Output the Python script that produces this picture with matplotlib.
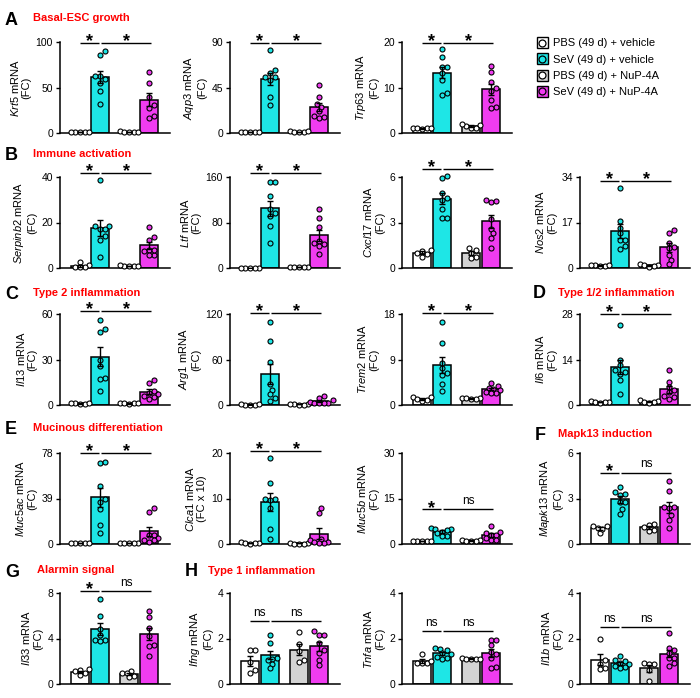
import numpy as np
import matplotlib
matplotlib.use("Agg")
import matplotlib.pyplot as plt
from matplotlib.patches import Rectangle
from matplotlib.lines import Line2D
from matplotlib.legend_handler import HandlerBase

plt.rcParams["font.family"] = ["Liberation Sans", "DejaVu Sans"]
plt.rcParams["mathtext.fontset"] = "custom"
plt.rcParams["mathtext.rm"] = "Liberation Sans"
plt.rcParams["mathtext.it"] = "Liberation Sans:italic"
plt.rcParams["mathtext.bf"] = "Liberation Sans:bold"

# ---------------- data ----------------
group_labels = ["PBS (49 d) + vehicle", "SeV (49 d) + vehicle",
                "PBS (49 d) + NuP-4A", "SeV (49 d) + NuP-4A"]
bar_colors = ["#FFFFFF", "#1EE6E6", "#D3D3D3", "#F03CF0"]
dot_colors = ["#FFFFFF", "#1EE6E6", "#FFFFFF", "#F03CF0"]

krt5 = [[0.8, 1.0, 1.2, 0.9, 1.1], [90, 86, 63, 63, 59, 55, 46, 32],
        [1.0, 1.5, 2.0, 1.0, 0.8], [67, 55, 40, 31, 28, 19, 17]]
aqp3 = [[0.6, 0.8, 1.0, 1.1, 0.9], [82, 62, 59, 55, 55, 52, 36, 28],
        [1.0, 2.0, 1.5, 0.8, 1.0], [47, 36, 29, 26, 22, 17, 15, 16]]
trp63 = [[1.0, 1.1, 0.9, 1.0, 1.05], [18.5, 16.7, 14.4, 14.4, 13.2, 11.6, 8.4, 8.8],
         [1.0, 1.5, 2.0, 1.8, 1.2], [14.7, 13.3, 11.3, 10.0, 9.3, 7.2, 5.7, 5.6]]
serpinb2 = [[2.5, 1.2, 0.6, 0.5, 0.4], [38.5, 18.6, 18.6, 17, 17, 14, 12.5, 5],
            [1.0, 1.0, 0.8, 1.2, 1.0], [18, 13.6, 12.5, 8, 5.9, 7.3, 8, 5.9]]
ltf = [[0.5, 0.6, 0.8, 0.7, 0.5], [152, 152, 127, 103, 97, 91, 73, 44],
       [1.0, 1.5, 2.0, 1.0, 1.0], [104, 88, 72, 48, 44, 42, 38, 24]]
cxcl17 = [[1.2, 1.15, 1.0, 0.75, 0.95], [5.95, 6.05, 4.95, 4.6, 4.5, 3.9, 3.3, 3.3],
          [1.0, 1.3, 1.2, 0.75, 0.65], [4.5, 4.35, 4.4, 3.2, 2.6, 2.3, 2.0, 1.3]]
nos2 = [[1.0, 0.8, 1.2, 0.7, 1.1], [30, 17.5, 15, 13, 10.6, 10.6, 8.1, 7],
        [1.5, 1.0, 0.5, 1.2, 0.8], [14.3, 13, 9.3, 8, 7.5, 5, 3.1, 1.5]]
il13 = [[1.0, 0.8, 1.2, 0.9, 1.1], [56, 50, 48, 30, 26, 18, 17, 9],
        [1.0, 1.1, 0.9, 1.2, 1.0], [16.5, 14.5, 9, 8, 7, 6, 5, 4]]
arg1 = [[0.5, 0.7, 0.6, 0.4, 0.8], [110, 84, 57, 28, 20, 14, 9, 5],
        [0.5, 1.0, 0.8, 0.6, 1.0], [12, 9, 6, 4, 3, 3, 2, 2.5]]
trem2 = [[1.5, 1.5, 1.2, 0.7, 0.9], [16.5, 12.2, 8.3, 7.3, 6.3, 6.0, 4.2, 2.8],
         [1.3, 1.4, 1.2, 1.3, 1.1], [4.3, 3.8, 3.4, 3.2, 3.0, 2.6, 2.4, 2.3]]
il6 = [[1.0, 0.7, 0.8, 1.2, 0.9], [24.7, 14, 12.4, 10.8, 10.2, 9.6, 7.6, 3.4],
       [1.5, 1.2, 0.8, 1.0, 0.6], [10.9, 7, 5.5, 4.5, 3.9, 2.9, 2.4, 1.9]]
muc5ac = [[0.6, 0.8, 1.0, 0.7, 0.9], [69.8, 70.4, 50, 39, 36.3, 29.6, 16.2, 9.1],
          [1.0, 0.8, 1.2, 1.0, 0.9], [30.5, 27.6, 7.7, 4.8, 7.7, 3.4, 2.0, 3.4]]
clca1 = [[0.3, 0.2, 0.4, 0.1, 0.2], [18.8, 13.3, 10, 9.6, 10, 8, 3.4, 1.0],
         [0.1, 0.15, 0.1, 0.2, 0.1], [7.9, 6.9, 1.2, 0.9, 0.5, 0.3, 0.3, 0.4]]
muc5b = [[1.0, 1.0, 1.0, 0.9, 1.1], [5.3, 5.0, 4.8, 4.6, 4.1, 3.6, 2.8, 2.5],
         [1.3, 1.2, 1.0, 0.9, 1.1], [5.9, 4.0, 3.5, 3.0, 3.0, 1.9, 1.3, 1.3]]
mapk13 = [[0.72, 1.18, 1.03, 1.0, 1.18], [3.77, 3.45, 3.2, 3.3, 2.76, 2.76, 2.3, 2.0],
          [1.35, 1.25, 1.1, 0.95, 0.85], [4.14, 3.5, 2.45, 2.35, 2.45, 1.9, 1.6, 1.03]]
il33 = [[1.3, 1.26, 1.1, 0.82, 0.97], [7.5, 5.95, 4.8, 4.3, 3.9, 3.85, 3.8],
        [1.0, 1.1, 0.95, 0.7, 0.6], [6.45, 5.9, 4.9, 4.2, 3.4, 3.3, 2.5]]
ifng = [[1.5, 1.5, 0.95, 0.63, 0.48], [2.15, 1.82, 1.15, 1.12, 1.05, 0.9, 0.72],
        [2.3, 1.75, 1.45, 1.05, 0.95], [2.34, 2.17, 2.17, 1.8, 1.5, 1.36, 1.07, 0.85]]
tnfa = [[1.32, 0.92, 0.92, 1.0, 0.92], [1.58, 1.55, 1.5, 1.35, 1.3, 1.2, 1.15, 1.1],
        [1.15, 1.1, 1.1, 1.1, 1.12], [1.95, 1.95, 1.7, 1.4, 1.3, 1.15, 0.75, 0.72]]
il1b = [[1.99, 1.07, 0.9, 0.72, 0.68], [1.22, 1.05, 1.0, 0.92, 0.88, 0.8, 0.75, 0.7],
        [0.92, 0.9, 0.88, 0.6, 0.12], [2.24, 1.58, 1.5, 1.36, 1.14, 1.14, 0.78, 0.92]]

genes = ["Krt5", "Aqp3", "Trp63", "Serpinb2", "Ltf", "Cxcl17", "Nos2",
         "Il13", "Arg1", "Trem2", "Il6", "Muc5ac", "Clca1", "Muc5b", "Mapk13",
         "Il33", "Ifng", "Tnfa", "Il1b"]
datasets = [krt5, aqp3, trp63, serpinb2, ltf, cxcl17, nos2, il13, arg1, trem2, il6,
            muc5ac, clca1, muc5b, mapk13, il33, ifng, tnfa, il1b]
ymaxes = [100, 90, 20, 40, 160, 6, 34, 60, 120, 18, 28, 78, 20, 30, 6, 8, 4, 4, 4]
units = ["(FC)"] * 12 + ["(FC x 10)"] + ["(FC)"] * 6
sig_left = ["*"] * 15 + ["*", "ns", "ns", "ns"]
sig_right = ["*"] * 13 + ["ns", "ns", "ns", "ns", "ns", "ns"]
sig_frac = [0.985, 0.985, 0.99, 1.04, 1.04, 1.09, 0.96, 1.03, 1.01, 1.01, 1.0,
            1.0, 1.02, 0.38, 0.785, 1.02, 0.69, 0.585, 0.63]
grid_pos = [(0, 0), (0, 1), (0, 2), (1, 0), (1, 1), (1, 2), (1, 3),
            (2, 0), (2, 1), (2, 2), (2, 3), (3, 0), (3, 1), (3, 2), (3, 3),
            (4, 0), (4, 1), (4, 2), (4, 3)]

section_letters = ["A", "B", "C", "D", "E", "F", "G", "H"]
section_titles = ["Basal-ESC growth", "Immune activation", "Type 2 inflammation",
                  "Type 1/2 inflammation", "Mucinous differentiation",
                  "Mapk13 induction", "Alarmin signal", "Type 1 inflammation"]

# ---------------- layout ----------------
W, H = 700, 698
fig = plt.figure(figsize=(W / 100, H / 100), dpi=100)
col_left = [60, 230, 402, 580]
row_top = [42, 177, 314, 453, 593]
AXW, AXH = 110, 91
xpos = np.array([0, 1, 2.45, 3.45])
XL = (-1.0, 4.5)
px_per_unit = AXW / (XL[1] - XL[0])


def swarm(vals, ymax, spacing=4.6):
    vals = np.asarray(vals, float)
    order = np.argsort(vals)
    placed = []
    offs = np.zeros(len(vals))
    steps = [0]
    for k in range(1, 12):
        steps += [k * 0.5, -k * 0.5]
    for i in order:
        ypx = vals[i] / ymax * AXH
        for s in steps:
            xpx = s * spacing
            if all((xpx - a) ** 2 + (ypx - b) ** 2 >= spacing ** 2 * 0.98 for a, b in placed):
                break
        placed.append((xpx, ypx))
        offs[i] = xpx / px_per_unit
    return offs


for gi, gene in enumerate(genes):
    r, c = grid_pos[gi]
    left = col_left[c] / W
    bottom = 1 - (row_top[r] + AXH) / H
    ax = fig.add_axes([left, bottom, AXW / W, AXH / H])
    data = datasets[gi]
    ymax = ymaxes[gi]
    means = [np.mean(g) for g in data]
    sems = [np.std(g, ddof=1) / np.sqrt(len(g)) for g in data]
    ax.bar(xpos, means, width=0.9, color=bar_colors, edgecolor="black",
           linewidth=1.1, zorder=2)
    for k, g in enumerate(data):
        offs = swarm(g, ymax)
        ax.scatter(xpos[k] + offs, g, s=13, facecolor=dot_colors[k],
                   edgecolor="black", linewidths=0.8, zorder=3, clip_on=False)
    ax.errorbar(xpos, means, yerr=sems, fmt="none", ecolor="black",
                elinewidth=1.0, capsize=2.5, capthick=1.0, zorder=4)
    ax.set_xlim(*XL)
    ax.set_ylim(0, ymax)
    ax.set_yticks([0, ymax / 2, ymax])
    ax.set_yticklabels([f"{v:g}" for v in [0, ymax / 2, ymax]])
    ax.set_xticks([])
    for sp in ["top", "right"]:
        ax.spines[sp].set_visible(False)
    for sp in ["left", "bottom"]:
        ax.spines[sp].set_linewidth(1.1)
    ax.tick_params(axis="y", length=3, width=1.0, labelsize=7.5, pad=2)
    ax.set_ylabel(r"$\mathit{" + gene + "}$ mRNA\n" + units[gi], fontsize=8,
                  labelpad=3, linespacing=1.1)
    # significance
    ys = sig_frac[gi] * ymax
    segs = [(xpos[0] - 0.02, xpos[1] - 0.07, sig_left[gi]),
            (xpos[1] + 0.07, xpos[3] + 0.12, sig_right[gi])]
    for x0, x1, lab in segs:
        ax.plot([x0, x1], [ys, ys], color="black", lw=1.0, clip_on=False,
                solid_capstyle="butt")
        if lab == "*":
            ax.annotate("*", ((x0 + x1) / 2, ys), xytext=(0, -2.3),
                        textcoords="offset points", ha="center", va="baseline",
                        fontsize=13, fontweight="bold", annotation_clip=False)
        else:
            ax.annotate("ns", ((x0 + x1) / 2, ys), xytext=(0, 1.5),
                        textcoords="offset points", ha="center", va="bottom",
                        fontsize=8.5, annotation_clip=False)

# section labels
letter_xy = [(5, 25), (5, 160), (5, 299), (533, 298), (5, 434), (535, 440),
             (5, 576.7), (185, 576)]
title_xy = [(33, 20.7), (33, 156.7), (33, 296), (558, 296), (33, 430.7),
            (558, 437.3), (37, 573.3), (208, 574)]
for L, T, (lx, ly), (tx, ty) in zip(section_letters, section_titles, letter_xy, title_xy):
    fig.text(lx / W, 1 - ly / H, L, fontsize=13, fontweight="bold", va="baseline")
    fig.text(tx / W, 1 - ty / H, T, fontsize=8, fontweight="bold", color="#FF0000",
             va="baseline")


# legend: square swatch with a dot inside
class Key:
    def __init__(self, bc, dc):
        self.bc, self.dc = bc, dc


class KeyHandler(HandlerBase):
    def create_artists(self, legend, orig_handle, xdescent, ydescent, width,
                       height, fontsize, trans):
        size = height
        x0 = -xdescent + (width - size) / 2
        y0 = -ydescent
        rect = Rectangle((x0, y0), size, size, facecolor=orig_handle.bc,
                         edgecolor="black", linewidth=1.0, transform=trans)
        dot = Line2D([x0 + size / 2], [y0 + size / 2], marker="o", linestyle="none",
                     markersize=5, markerfacecolor=orig_handle.dc,
                     markeredgecolor="black", markeredgewidth=0.9, transform=trans)
        return [rect, dot]


keys = [Key(bc, dc) for bc, dc in zip(bar_colors, dot_colors)]
fig.legend(keys, group_labels, handler_map={Key: KeyHandler()},
           loc="upper left", bbox_to_anchor=(536 / W, 1 - 37 / H), frameon=False,
           fontsize=8, handlelength=1.15, handleheight=1.15, handletextpad=0.4,
           labelspacing=0.45, borderpad=0, borderaxespad=0)

fig.savefig("out.png", dpi=100)
